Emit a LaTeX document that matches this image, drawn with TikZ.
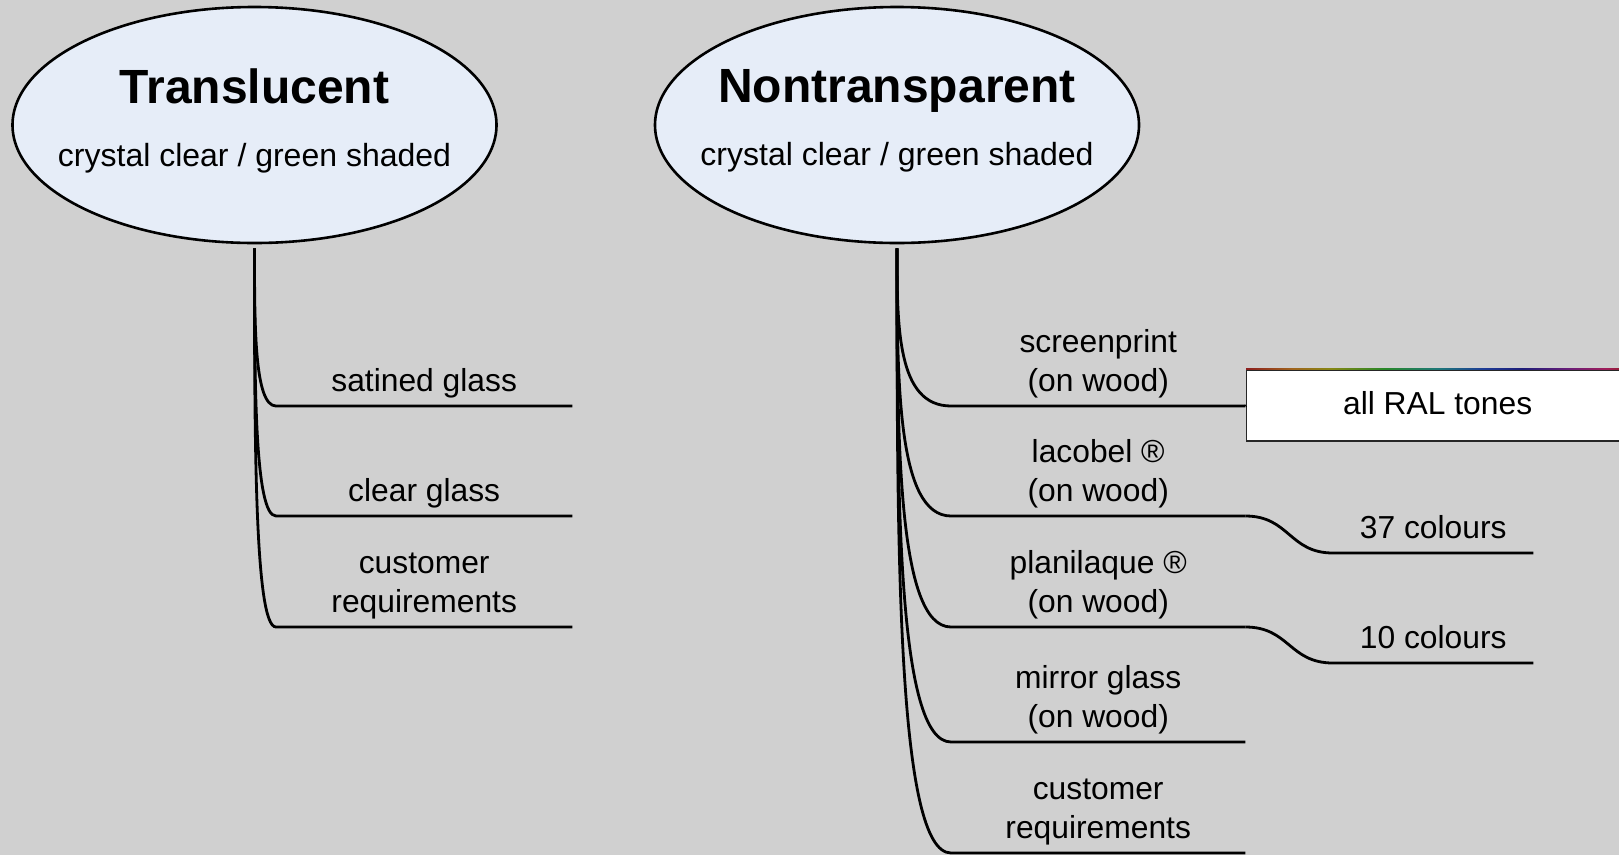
\documentclass[tikz,border=0pt]{standalone}
\usepackage{fontspec}
\setmainfont{Liberation Sans}
\usetikzlibrary{shapes.geometric,calc}
\definecolor{bg}{RGB}{208,208,208}
\definecolor{ellfill}{RGB}{230,237,248}
\definecolor{rb1}{RGB}{140,30,30}
\definecolor{rb2}{RGB}{160,100,30}
\definecolor{rb3}{RGB}{135,135,20}
\definecolor{rb4}{RGB}{40,135,40}
\definecolor{rb5}{RGB}{30,120,120}
\definecolor{rb6}{RGB}{30,60,150}
\definecolor{rb7}{RGB}{30,30,120}
\definecolor{rb8}{RGB}{105,30,120}
\definecolor{rb9}{RGB}{160,30,90}
\pgfdeclarehorizontalshading{ralrainbow}{100bp}{color(0bp)=(rb1); color(25bp)=(rb1); color(31bp)=(rb2); color(36bp)=(rb3); color(43bp)=(rb4); color(50bp)=(rb5); color(56bp)=(rb6); color(61bp)=(rb7); color(67bp)=(rb8); color(72bp)=(rb9); color(75bp)=(rb1); color(100bp)=(rb1)}
\begin{document}
\begin{tikzpicture}[x=1pt,y=-1pt,
  ell/.style={ellipse, draw=black, line width=2.6pt, fill=ellfill, minimum width=484pt, minimum height=236pt, inner xsep=-40pt, inner ysep=15pt, align=center, font=\fontsize{32}{63}\selectfont},
  lab/.style={inner sep=0pt, text depth=14.5pt, align=center, anchor=south west, minimum width=296pt, font=\fontsize{31.8}{38.5}\selectfont},
  conn/.style={line width=2.8pt, draw=black},
  ralbox/.style={rectangle, draw=black!85, line width=1.3pt, fill=white, minimum width=382pt, minimum height=71pt, inner sep=0pt, text height=23.3pt, text depth=6pt, font=\fontsize{31.8}{38}\selectfont, anchor=west}]
\fill[bg] (0,0) rectangle (1619,855);
\useasboundingbox (0,0) rectangle (1619,855);

% main ellipses
\node[ell] (tl) at (254.5,125) {{\fontsize{48}{63}\selectfont\bfseries Translucent}\\crystal clear / green shaded\rule[-15pt]{0pt}{1pt}};
\node[ell] (nt) at (897,125) {{\fontsize{48}{63}\selectfont\bfseries Nontransparent}\\crystal clear / green shaded\rule[-15pt]{0pt}{1pt}};

\coordinate (tlr) at ([yshift=-4pt]tl.south);
\coordinate (ntr) at ([yshift=-4pt]nt.south);

% left labels
\node[lab] (sat) at (276,406) {satined glass};
\node[lab] (clr) at (276,516) {clear glass};
\node[lab] (cusa) at (276,627) {customer\\requirements};

% right labels
\node[lab, minimum width=294pt] (scr) at (951,406) {screenprint\\(on wood)};
\node[lab, minimum width=294pt] (lac) at (951,516) {lacobel ®\\(on wood)};
\node[lab, minimum width=294pt] (pla) at (951,627) {planilaque ®\\(on wood)};
\node[lab, minimum width=294pt] (mir) at (951,742) {mirror glass\\(on wood)};
\node[lab, minimum width=294pt] (cusb) at (951,853) {customer\\requirements};

\node[lab, minimum width=200pt] (c37) at (1333,553) {37 colours};
\node[lab, minimum width=200pt] (c10) at (1333,663) {10 colours};

\node[ralbox] (ral) at (1246,405.5) {all RAL tones};
\shade[shading=ralrainbow] ([yshift=0.6pt]ral.north west) rectangle ([yshift=-0.6pt]ral.north east);

% branches
\foreach \r/\c in {tlr/sat, tlr/clr, tlr/cusa, ntr/scr, ntr/lac, ntr/pla, ntr/mir, ntr/cusb}{
  \draw[conn] (\r) .. controls ($(\r)!0.5!(\r |- \c.south west)$) and (\r |- \c.south west) .. (\c.south west) -- (\c.south east);
}
\draw[conn] (scr.south east) -- (ral.west);
\draw[conn] (lac.south east) .. controls +(44,0) and +(-44,0) .. (c37.south west) -- (c37.south east);
\draw[conn] (pla.south east) .. controls +(44,0) and +(-44,0) .. (c10.south west) -- (c10.south east);
\end{tikzpicture}
\end{document}
